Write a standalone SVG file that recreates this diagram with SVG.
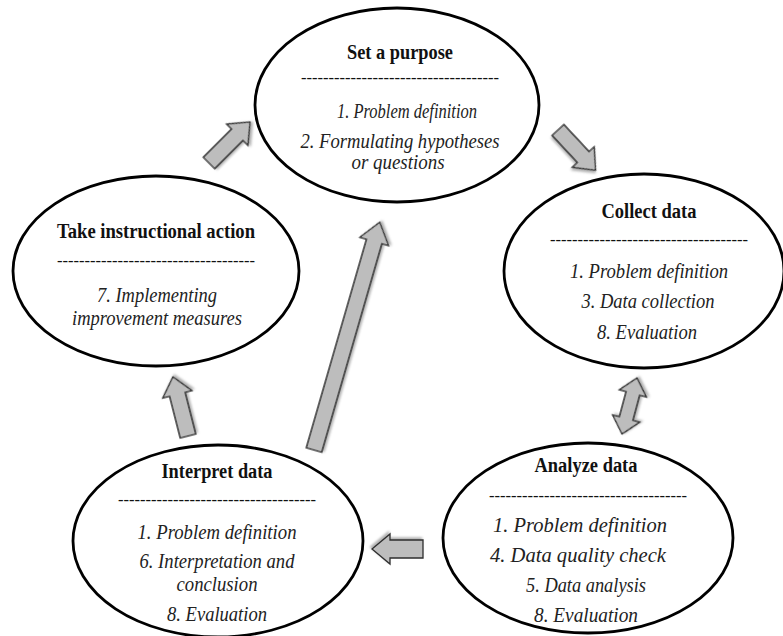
<svg xmlns="http://www.w3.org/2000/svg" width="783" height="636" viewBox="0 0 783 636">
  <style>
    .node ellipse { fill: #ffffff; stroke: #000000; stroke-width: 2.8; }
    .title { font-family: "Liberation Serif", "Times New Roman", serif; font-weight: bold; font-size: 20px; fill: #111; text-anchor: middle; }
    .rule { font-family: "Liberation Serif", "Times New Roman", serif; font-size: 17px; fill: #111; text-anchor: middle; }
    .item { font-family: "Liberation Serif", "Times New Roman", serif; font-style: italic; font-size: 20.5px; fill: #222; text-anchor: middle; }
    .arrow { fill: #bdbdbd; stroke: #2e2e2e; stroke-width: 1.3; stroke-linejoin: miter; filter: url(#shadow); }
  </style>
  <defs>
    <filter id="shadow" x="-30%" y="-30%" width="160%" height="160%">
      <feDropShadow dx="1.5" dy="2" stdDeviation="1.2" flood-color="#000" flood-opacity="0.3"/>
    </filter>
  </defs>
  <rect width="783" height="636" fill="#ffffff"/>

  <!-- block arrows between stages -->
  <g id="connectors">
    <!-- Take instructional action -> Set a purpose -->
    <path class="arrow" transform="translate(209,163) rotate(-45)" d="M0,-8 L40,-8 L40,-15 L58,0 L40,15 L40,8 L0,8 Z"/>
    <!-- Set a purpose -> Collect data -->
    <path class="arrow" transform="translate(558,130) rotate(47)" d="M0,-8 L37,-8 L37,-15 L55,0 L37,15 L37,8 L0,8 Z"/>
    <!-- Collect data <-> Analyze data -->
    <path class="arrow" transform="translate(622,434) rotate(-75)" d="M0,0 L16,-14 L16,-7 L42,-7 L42,-14 L58,0 L42,14 L42,7 L16,7 L16,14 Z"/>
    <!-- Analyze data -> Interpret data -->
    <path class="arrow" transform="translate(423,549) rotate(180)" d="M0,-9 L33,-9 L33,-15 L51,0 L33,15 L33,9 L0,9 Z"/>
    <!-- Interpret data -> Take instructional action -->
    <path class="arrow" transform="translate(188,436) rotate(-104.3)" d="M0,-8 L43,-8 L43,-15 L61,0 L43,15 L43,8 L0,8 Z"/>
    <!-- Interpret data -> Set a purpose -->
    <path class="arrow" transform="translate(314,450) rotate(-73.9)" d="M0,-8 L217,-8 L217,-15 L237,0 L217,15 L217,8 L0,8 Z"/>
  </g>

  <g id="set-purpose" class="node">
    <ellipse cx="397" cy="105" rx="142" ry="97"/>
    <text class="title" x="400" y="59" textLength="106" lengthAdjust="spacingAndGlyphs">Set a purpose</text>
    <text class="rule" x="400" y="83" textLength="198" lengthAdjust="spacingAndGlyphs">------------------------------------</text>
    <text class="item" x="407" y="118" textLength="140" lengthAdjust="spacingAndGlyphs">1. Problem definition</text>
    <text class="item" x="400" y="148" textLength="199" lengthAdjust="spacingAndGlyphs">2. Formulating hypotheses</text>
    <text class="item" x="398" y="169" textLength="93" lengthAdjust="spacingAndGlyphs">or questions</text>
  </g>

  <g id="collect-data" class="node">
    <ellipse cx="644" cy="271" rx="140" ry="97"/>
    <text class="title" x="649" y="218" textLength="95" lengthAdjust="spacingAndGlyphs">Collect data</text>
    <text class="rule" x="649" y="245" textLength="198" lengthAdjust="spacingAndGlyphs">------------------------------------</text>
    <text class="item" x="649" y="278" textLength="158" lengthAdjust="spacingAndGlyphs">1. Problem definition</text>
    <text class="item" x="648" y="308" textLength="133" lengthAdjust="spacingAndGlyphs">3. Data collection</text>
    <text class="item" x="647" y="339" textLength="100" lengthAdjust="spacingAndGlyphs">8. Evaluation</text>
  </g>

  <g id="take-action" class="node">
    <ellipse cx="156" cy="271" rx="143" ry="95"/>
    <text class="title" x="156" y="238" textLength="198" lengthAdjust="spacingAndGlyphs">Take instructional action</text>
    <text class="rule" x="156" y="266" textLength="198" lengthAdjust="spacingAndGlyphs">------------------------------------</text>
    <text class="item" x="157" y="302" textLength="120" lengthAdjust="spacingAndGlyphs">7. Implementing</text>
    <text class="item" x="157" y="325" textLength="170" lengthAdjust="spacingAndGlyphs">improvement measures</text>
  </g>

  <g id="interpret-data" class="node">
    <ellipse cx="218" cy="541" rx="145" ry="96"/>
    <text class="title" x="217" y="478" textLength="111" lengthAdjust="spacingAndGlyphs">Interpret data</text>
    <text class="rule" x="217" y="505" textLength="198" lengthAdjust="spacingAndGlyphs">------------------------------------</text>
    <text class="item" x="217" y="539" textLength="159" lengthAdjust="spacingAndGlyphs">1. Problem definition</text>
    <text class="item" x="217" y="568" textLength="155" lengthAdjust="spacingAndGlyphs">6. Interpretation and</text>
    <text class="item" x="217" y="591" textLength="81" lengthAdjust="spacingAndGlyphs">conclusion</text>
    <text class="item" x="217" y="621" textLength="100" lengthAdjust="spacingAndGlyphs">8. Evaluation</text>
  </g>

  <g id="analyze-data" class="node">
    <ellipse cx="588" cy="538" rx="145" ry="95"/>
    <text class="title" x="586" y="472" textLength="103" lengthAdjust="spacingAndGlyphs">Analyze data</text>
    <text class="rule" x="588" y="501" textLength="198" lengthAdjust="spacingAndGlyphs">------------------------------------</text>
    <text class="item" x="580" y="532" textLength="174" lengthAdjust="spacingAndGlyphs">1. Problem definition</text>
    <text class="item" x="578" y="562" textLength="176" lengthAdjust="spacingAndGlyphs">4. Data quality check</text>
    <text class="item" x="586" y="592" textLength="120" lengthAdjust="spacingAndGlyphs">5. Data analysis</text>
    <text class="item" x="586" y="622" textLength="104" lengthAdjust="spacingAndGlyphs">8. Evaluation</text>
  </g>
</svg>
